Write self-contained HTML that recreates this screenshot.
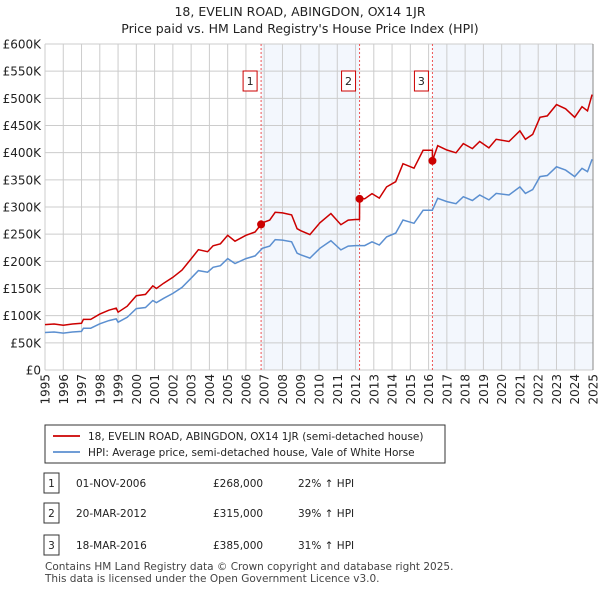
<!DOCTYPE html>
<html><head><meta charset="utf-8"><style>
body{margin:0;background:#fff;font-family:"Liberation Sans","DejaVu Sans",sans-serif;}
svg text{font-family:"DejaVu Sans","Liberation Sans",sans-serif;}
</style></head><body>
<svg id="chart" width="600" height="590" xmlns="http://www.w3.org/2000/svg">
<text x="300" y="16" font-size="12.5" text-anchor="middle" fill="#222">18, EVELIN ROAD, ABINGDON, OX14 1JR</text>
<text x="300" y="33" font-size="12.5" text-anchor="middle" fill="#222">Price paid vs. HM Land Registry's House Price Index (HPI)</text>
<g id="plot"></g>
<g>
<rect x="45" y="425" width="400" height="38" fill="#fff" stroke="#333"/>
<line x1="53" y1="436" x2="80" y2="436" stroke="#cc0000" stroke-width="1.8"/>
<text x="88" y="440" font-size="10.5" fill="#222">18, EVELIN ROAD, ABINGDON, OX14 1JR (semi-detached house)</text>
<line x1="53" y1="452" x2="80" y2="452" stroke="#5b8fd0" stroke-width="1.8"/>
<text x="88" y="456" font-size="10.5" fill="#222">HPI: Average price, semi-detached house, Vale of White Horse</text>
</g>
<g id="table" font-size="10.5" fill="#222"></g>
<text x="45" y="570" font-size="10.5" fill="#444">Contains HM Land Registry data © Crown copyright and database right 2025.</text>
<text x="45" y="582" font-size="10.5" fill="#444">This data is licensed under the Open Government Licence v3.0.</text>
</svg>
<script>
const hpiYears=[1995,1995.5,1996,1996.5,1997,1997.1,1997.5,1998,1998.5,1998.9,1999.0,1999.5,2000,2000.5,2000.9,2001.1,2001.5,2002,2002.5,2003,2003.4,2003.9,2004.2,2004.6,2005,2005.4,2006,2006.5,2006.9,2007.3,2007.6,2008,2008.5,2008.8,2009,2009.5,2010.05,2010.65,2011.2,2011.6,2012,2012.5,2012.9,2013.3,2013.7,2014.2,2014.6,2015.2,2015.7,2016.2,2016.5,2017,2017.5,2017.9,2018.4,2018.8,2019.3,2019.7,2020.4,2021,2021.3,2021.7,2022.1,2022.5,2023,2023.5,2024,2024.4,2024.7,2024.95];
const hpiValues=[69,70,68,70,71,77,77,85,91,94,88,97,113,115,128,124,132,141,152,169,183,180,189,192,205,196,205,210,224,228,240,239,236,215,212,206,224,238,221,228,229,229,236,230,245,252,276,270,294,294,316,310,306,319,312,322,313,325,322,337,325,332,356,358,374,368,356,371,365,388];
const saleLabels=["1","2","3"];
const saleYears=[2006.83,2012.22,2016.21];
const salePrices=[268000,315000,385000];
const saleDates=["01-NOV-2006","20-MAR-2012","18-MAR-2016"];
const salePriceText=["£268,000","£315,000","£385,000"];
const saleHpiText=["22% ↑ HPI","39% ↑ HPI","31% ↑ HPI"];
const yTicks=[0,50,100,150,200,250,300,350,400,450,500,550,600];
const yTickLabels=["£0","£50K","£100K","£150K","£200K","£250K","£300K","£350K","£400K","£450K","£500K","£550K","£600K"];
const xTicks=[1995,1996,1997,1998,1999,2000,2001,2002,2003,2004,2005,2006,2007,2008,2009,2010,2011,2012,2013,2014,2015,2016,2017,2018,2019,2020,2021,2022,2023,2024,2025];

const X0=45,X1=593,Y0=370,Y1=44;
const xs=y=>X0+(y-1995)/30*(X1-X0);
const ys=v=>Y0-v/600*(Y0-Y1);
const NS="http://www.w3.org/2000/svg";
function mk(tag,attrs,parent){const e=document.createElementNS(NS,tag);for(const k in attrs)e.setAttribute(k,attrs[k]);parent.appendChild(e);return e;}
const plot=document.getElementById('plot');
function hpiAt(t){for(let i=0;i<hpiYears.length-1;i++){if(t<=hpiYears[i+1]){const f=(t-hpiYears[i])/(hpiYears[i+1]-hpiYears[i]);return hpiValues[i]+f*(hpiValues[i+1]-hpiValues[i]);}}return hpiValues[hpiValues.length-1];}
// shading
let s1=mk('rect',{x:xs(saleYears[0]),y:Y1,width:xs(saleYears[1])-xs(saleYears[0]),height:Y0-Y1,fill:'#eef3fc',opacity:0.7},plot);


let s2=mk('rect',{x:xs(saleYears[2]),y:Y1,width:X1-xs(saleYears[2]),height:Y0-Y1,fill:'#eef3fc',opacity:0.7},plot);


// grid
yTicks.forEach((v,i)=>{
 let l=mk('line',{x1:X0,x2:X1,y1:ys(v),y2:ys(v),stroke:'#cccccc','stroke-width':1},plot);
 
 
 let t=mk('text',{x:X0-4,y:ys(v)+4.5,'font-size':12,'text-anchor':'end',fill:'#222'},plot);t.textContent=yTickLabels[i];
 
 
});
xTicks.forEach(yr=>{
 let l=mk('line',{x1:xs(yr),x2:xs(yr),y1:Y1,y2:Y0,stroke:'#cccccc','stroke-width':1},plot);
 
 
 let t=mk('text',{x:0,y:0,'font-size':12,'text-anchor':'end',fill:'#222',transform:`translate(${xs(yr)+4.5},374) rotate(-90)`},plot);t.textContent=yr;
 
 
});
let ax=mk('line',{x1:X1,x2:X1,y1:Y1,y2:Y0,stroke:'#888'},plot);


// sale lines
saleYears.forEach((sy,i)=>{
 let l=mk('line',{x1:xs(sy),x2:xs(sy),y1:Y1,y2:Y0,stroke:'#ee5555','stroke-dasharray':'2,2','stroke-width':1},plot);
 
 
 let r=mk('rect',{x:xs(sy)-18,y:71,width:14,height:20,fill:'#fff',stroke:'#cc0000'},plot);
 
 
 let t=mk('text',{x:xs(sy)-11,y:85,'font-size':11,'text-anchor':'middle',fill:'#222'},plot);t.textContent=saleLabels[i];
 
 
});
// HPI line
let d=hpiYears.map((y,i)=>(i?'L':'M')+xs(y).toFixed(1)+','+ys(hpiValues[i]).toFixed(1)).join('');
let hl=mk('path',{d:d,fill:'none',stroke:'#5b8fd0','stroke-width':1.5},plot);


// price line: HPI indexed from each sale
function factorAt(t){let f=salePrices[0]/1000/hpiAt(saleYears[0]);for(let i=0;i<saleYears.length;i++){if(t>=saleYears[i])f=salePrices[i]/1000/hpiAt(saleYears[i]);}return f;}
let pts=[];
const allT=[...hpiYears];saleYears.forEach(s=>{allT.push(s-0.001);allT.push(s);});allT.sort((a,b)=>a-b);
allT.forEach(t=>pts.push([xs(t),ys(hpiAt(t)*factorAt(t))]));
let rl=mk('path',{d:pts.map((p,i)=>(i?'L':'M')+p[0].toFixed(1)+','+p[1].toFixed(1)).join(''),fill:'none',stroke:'#cc0000','stroke-width':1.5},plot);


saleYears.forEach((sy,i)=>{
 let c=mk('circle',{cx:xs(sy),cy:ys(salePrices[i]/1000),r:4,fill:'#cc0000'},plot);
 
 
});
// table
const tb=document.getElementById('table');
saleLabels.forEach((lab,i)=>{
 const yy=[483,513,545][i];
 let r=mk('rect',{x:44,y:yy-10,width:15,height:20,fill:'#fff',stroke:'#333'},tb);
 
 
 const cols=[[51.5,lab,'middle'],[76,saleDates[i],'start'],[213,salePriceText[i],'start'],[298,saleHpiText[i],'start']];
 cols.forEach(c=>{let t=mk('text',{x:c[0],y:yy+4,'text-anchor':c[2]},tb);t.textContent=c[1];
  
  });
});
</script>
</body></html>
